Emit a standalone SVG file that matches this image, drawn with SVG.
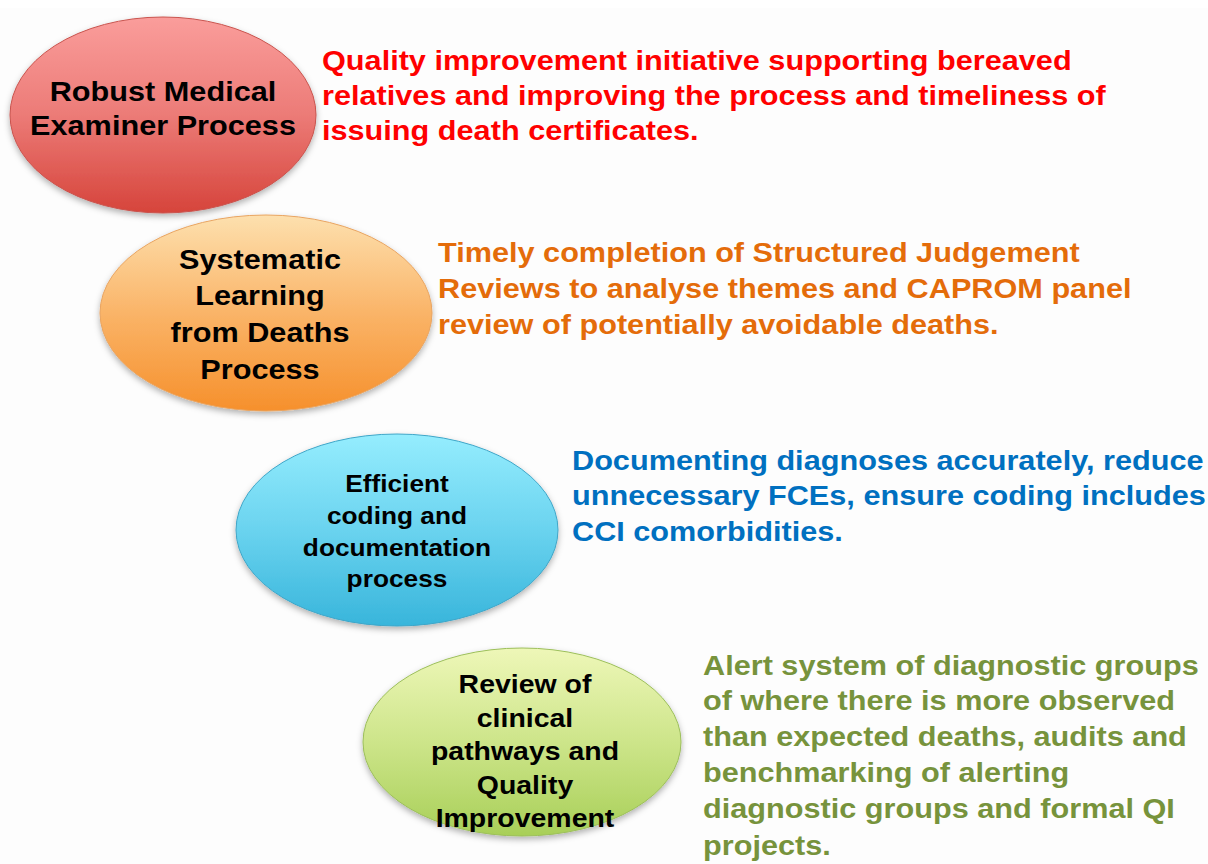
<svg xmlns="http://www.w3.org/2000/svg" width="1208" height="864" viewBox="0 0 1208 864">
  <defs>
    <linearGradient id="gRed" x1="0" y1="0" x2="0" y2="1">
      <stop offset="0" stop-color="#fa9d9b"/>
      <stop offset="0.5" stop-color="#ec7b77"/>
      <stop offset="1" stop-color="#d6443b"/>
    </linearGradient>
    <linearGradient id="gOrange" x1="0" y1="0" x2="0" y2="1">
      <stop offset="0" stop-color="#fde0ae"/>
      <stop offset="0.5" stop-color="#fab468"/>
      <stop offset="1" stop-color="#f6902c"/>
    </linearGradient>
    <linearGradient id="gBlue" x1="0" y1="0" x2="0" y2="1">
      <stop offset="0" stop-color="#95edfe"/>
      <stop offset="0.5" stop-color="#6ad3ef"/>
      <stop offset="1" stop-color="#38b5db"/>
    </linearGradient>
    <linearGradient id="gGreen" x1="0" y1="0" x2="0" y2="1">
      <stop offset="0" stop-color="#eef7b8"/>
      <stop offset="0.5" stop-color="#cde58a"/>
      <stop offset="1" stop-color="#a8cf58"/>
    </linearGradient>
    <filter id="shadow" x="-10%" y="-10%" width="120%" height="125%">
      <feDropShadow dx="0" dy="3" stdDeviation="3" flood-color="#000" flood-opacity="0.3"/>
    </filter>
  </defs>
  <style>
    .node ellipse { filter: url(#shadow); stroke-width: 1; }
    .lbl { font-family: "Liberation Sans", Arial, sans-serif; font-weight: bold; fill: #000; text-anchor: middle; }
    .desc { font-family: "Liberation Sans", Arial, sans-serif; font-weight: bold; font-size: 28px; }
  </style>
  <rect width="1208" height="864" fill="#fdfdfd"/>
  <rect width="1208" height="8" fill="#ffffff"/>

  <g id="connectors"></g>

  <!-- all lettering is set slightly wide: x scaled by 1.095 -->
  <g id="node-medical-examiner" class="node">
    <ellipse cx="163" cy="115" rx="153" ry="98" fill="url(#gRed)" stroke="#c9534d"/>
    <text class="lbl" font-size="28" transform="translate(163,0) scale(1.095,1)"><tspan x="0" y="101">Robust Medical</tspan><tspan x="0" y="135">Examiner Process</tspan></text>
  </g>
  <g id="desc-medical-examiner">
    <text class="desc" fill="#ff0000" transform="translate(322,0) scale(1.095,1)"><tspan x="0" y="70">Quality improvement initiative supporting bereaved</tspan><tspan x="0" y="105">relatives and improving the process and timeliness of</tspan><tspan x="0" y="140">issuing death certificates.</tspan></text>
  </g>

  <g id="node-learning-from-deaths" class="node">
    <ellipse cx="266" cy="313" rx="166" ry="98" fill="url(#gOrange)" stroke="#e9a460"/>
    <text class="lbl" font-size="28" transform="translate(260,0) scale(1.095,1)"><tspan x="0" y="269">Systematic</tspan><tspan x="0" y="305">Learning</tspan><tspan x="0" y="342">from Deaths</tspan><tspan x="0" y="379">Process</tspan></text>
  </g>
  <g id="desc-learning-from-deaths">
    <text class="desc" fill="#e46c0a" transform="translate(438,0) scale(1.095,1)"><tspan x="0" y="262">Timely completion of Structured Judgement</tspan><tspan x="0" y="298">Reviews to analyse themes and CAPROM panel</tspan><tspan x="0" y="334">review of potentially avoidable deaths.</tspan></text>
  </g>

  <g id="node-coding" class="node">
    <ellipse cx="397" cy="530" rx="161" ry="96" fill="url(#gBlue)" stroke="#3fa6c8"/>
    <text class="lbl" font-size="24" transform="translate(397,0) scale(1.095,1)"><tspan x="0" y="492">Efficient</tspan><tspan x="0" y="524">coding and</tspan><tspan x="0" y="556">documentation</tspan><tspan x="0" y="587">process</tspan></text>
  </g>
  <g id="desc-coding">
    <text class="desc" fill="#0070c0" transform="translate(572,0) scale(1.095,1)"><tspan x="0" y="470">Documenting diagnoses accurately, reduce</tspan><tspan x="0" y="505">unnecessary FCEs, ensure coding includes</tspan><tspan x="0" y="541">CCI comorbidities.</tspan></text>
  </g>

  <g id="node-clinical-pathways" class="node">
    <ellipse cx="522" cy="742" rx="159" ry="94" fill="url(#gGreen)" stroke="#9cbf5a"/>
    <text class="lbl" font-size="26" transform="translate(525,0) scale(1.095,1)"><tspan x="0" y="693">Review of</tspan><tspan x="0" y="727">clinical</tspan><tspan x="0" y="760">pathways and</tspan><tspan x="0" y="794">Quality</tspan><tspan x="0" y="827">Improvement</tspan></text>
  </g>
  <g id="desc-clinical-pathways">
    <text class="desc" fill="#77933c" transform="translate(703,0) scale(1.095,1)"><tspan x="0" y="675">Alert system of diagnostic groups</tspan><tspan x="0" y="710">of where there is more observed</tspan><tspan x="0" y="746">than expected deaths, audits and</tspan><tspan x="0" y="782">benchmarking of alerting</tspan><tspan x="0" y="818">diagnostic groups and formal QI</tspan><tspan x="0" y="855">projects.</tspan></text>
  </g>
</svg>
